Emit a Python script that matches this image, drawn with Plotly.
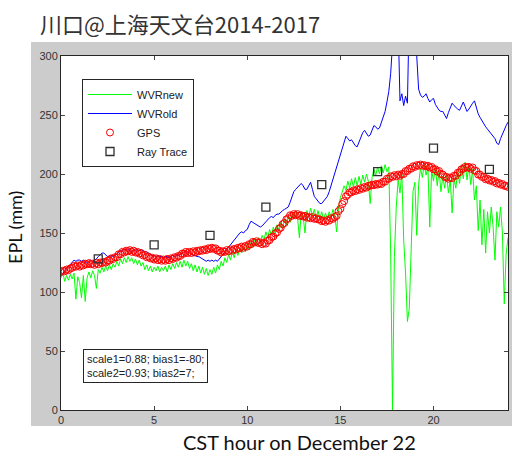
import plotly.graph_objects as go

# ---------------- data ----------------
step_hours = 0.1
n_samples = 241
hours = [round(i * step_hours, 1) for i in range(n_samples)]

wvr_new = [
    112, 116, 109, 114, 110, 115, 111, 116, 94, 113,
    108, 95, 114, 92, 112, 117, 112, 118, 114, 103,
    119, 116, 121, 117, 122, 118, 123, 119, 124, 121,
    126, 122, 128, 124, 129, 125, 130, 126, 129, 124,
    128, 123, 127, 122, 125, 119, 123, 118, 122, 117,
    121, 118, 122, 117, 121, 118, 122, 117, 123, 119,
    124, 120, 125, 121, 126, 121, 127, 122, 126, 120,
    124, 118, 123, 117, 122, 116, 121, 115, 120, 114,
    119, 115, 121, 116, 123, 119, 126, 122, 129, 125,
    132, 127, 134, 129, 136, 131, 137, 133, 139, 134,
    141, 136, 142, 138, 145, 140, 146, 142, 148, 144,
    151, 146, 153, 148, 155, 150, 157, 152, 159, 154,
    162, 157, 164, 159, 167, 162, 169, 163, 146, 168,
    164, 150, 169, 164, 171, 165, 170, 163, 169, 162,
    168, 161, 167, 162, 168, 163, 170, 165, 151, 172,
    180, 185, 190, 186, 194, 188, 196, 189, 197, 190,
    198, 191, 199, 193, 200, 194, 175, 197, 204, 199,
    206, 200, 207, 201, 208, 202, 206, 133, 0, 130,
    172, 195, 184, 201, 144, 116, 75, 86, 146, 185,
    193, 148, 191, 205, 197, 208, 199, 206, 155, 203,
    194, 206, 190, 203, 185, 198, 188, 200, 184, 195,
    167, 196, 188, 203, 192, 208, 196, 210, 195, 207,
    191, 204, 178, 190, 152, 178, 140, 170, 133, 168,
    150, 172, 155, 127, 168, 155, 172, 150, 90, 132,
    146,
]

wvr_old = [
    114, 116, 117, 119, 121, 124, 125, 127, 126, 127,
    127, 126, 127, 126, 125, 126, 127, 126, 127, 128,
    130, 132, 133, 133, 131, 130, 130, 131, 130, 131,
    132, 134, 135, 135, 136, 135, 136, 135, 134, 135,
    135, 136, 135, 136, 135, 134, 134, 133, 132, 131,
    131, 130, 131, 130, 130, 129, 130, 130, 129, 130,
    131, 130, 131, 131, 132, 133, 134, 134, 134, 133,
    132, 131, 131, 130, 130, 129, 128, 127, 126, 127,
    126, 127, 126, 127, 126, 128, 130, 131, 134, 136,
    138, 140, 142, 144, 146, 148, 150, 151, 150, 152,
    153, 157, 160, 159, 158, 157, 156, 155, 156, 158,
    160, 161, 163, 164, 163, 165, 166, 166, 168, 169,
    170, 171, 172, 176, 181, 185, 187, 189, 191, 192,
    190, 187, 187, 190, 193, 187, 181, 179, 177, 175,
    175, 177, 179, 181, 185, 190, 195, 201, 207, 212,
    216, 221, 227, 232, 230, 228, 229, 226, 224, 223,
    227, 231, 235, 237, 234, 232, 233, 237, 241, 240,
    238, 239, 244, 249, 253, 261, 270, 285, 305, 340,
    360, 330, 262, 268, 258, 266, 260, 340, 360, 350,
    330, 300, 272, 267, 265, 266, 268, 264, 261, 263,
    264, 259, 256, 254, 253, 253, 250, 247, 252, 256,
    260, 258, 256, 255, 254, 258, 261, 257, 253, 255,
    258, 260, 262, 256, 251, 248, 245, 242, 240, 238,
    236, 234, 233, 230, 226, 225, 230, 234, 238, 241,
    244,
]

gps = [
    117, 118, 117.5, 119, 118.5, 120, 120.5, 122, 121.5, 122.5,
    121.5, 123, 122.5, 124, 123.5, 124.5, 123.5, 124, 123, 124.5,
    123.5, 125, 124.5, 125.5, 125, 126.5, 126.5, 128.5, 128, 129.5,
    129.5, 132, 132, 134, 133.5, 135, 134.5, 135.5, 134, 135,
    133.5, 134, 132.5, 133, 131, 131.5, 129.5, 130, 128.5, 129,
    127.5, 128.5, 127, 128, 126.5, 127.5, 126.5, 128, 127, 128.5,
    128, 129.5, 129, 130.5, 130.5, 132.5, 132.5, 134, 133, 134,
    133, 134.5, 133.5, 135, 134.5, 135.5, 135, 136, 135.5, 137,
    136.5, 137.5, 136.5, 137, 135, 135, 133.5, 134.5, 134, 135.5,
    134.5, 136, 135, 136.5, 136, 137.5, 137, 138.5, 137.5, 139,
    138.5, 140.5, 140.5, 142.5, 142, 143, 141.5, 142, 140.5, 141.5,
    141, 143.5, 144, 146.5, 147, 149.5, 150.5, 153.5, 154.5, 157.5,
    158.5, 161.5, 162.5, 165, 164.5, 166, 165, 166, 164.5, 165,
    164, 164.5, 163, 163.5, 162.5, 163.5, 162, 162.5, 161.5, 161.5,
    160, 160.5, 159.5, 161, 160.5, 162.5, 162, 163.5, 164.5, 168.5,
    170.5, 174.5, 177, 181, 182.5, 184.5, 184.5, 186, 185.5, 187,
    186.5, 188, 187.5, 189, 188.5, 190, 190, 191, 190.5, 191.5,
    191, 192, 191.5, 193.5, 193.5, 196, 196, 198, 197.5, 199,
    198, 199.5, 198.5, 200, 200, 202.5, 202.5, 204.5, 204.5, 206.5,
    206, 207.5, 207, 208, 207, 207.5, 206.5, 207, 205.5, 206,
    204, 204, 202, 202.5, 200, 199.5, 197.5, 197.5, 196, 197,
    196.5, 198.5, 198.5, 201, 201.5, 204, 204.5, 206, 205.5, 206,
    204.5, 205.5, 203, 202.5, 199.5, 199.5, 197.5, 197.5, 195.5, 196,
    194.5, 195, 193.5, 194, 192, 192.5, 191, 191.5, 190, 190,
    189,
]

ray_hours = [2, 5, 8, 11, 14, 17, 20, 23]
ray_trace = [128, 140, 148, 172, 191, 202, 222, 204]

x_ticks = [0, 5, 10, 15, 20]
y_ticks = [0, 50, 100, 150, 200, 250, 300]

title_text = "川口@上海天文台2014-2017"
x_label = "CST hour on December 22"
y_label = "EPL (mm)"
note_text = "scale1=0.88; bias1=-80;<br>scale2=0.93; bias2=7;"

# ---------------- figure ----------------
W, H = 512, 454
L, R, T, B = 61, 4, 56, 44
pw, ph = W - L - R, H - T - B


def px_x(p):
    return (p - L) / pw


def px_y(p):
    return (H - B - p) / ph


tick_font = dict(family="Liberation Sans, Arial, sans-serif", size=11, color="#333333")

fig = go.Figure()
fig.add_trace(go.Scatter(x=hours, y=wvr_new, mode="lines", name="WVRnew",
                         line=dict(color="#00ff00", width=1)))
fig.add_trace(go.Scatter(x=hours, y=wvr_old, mode="lines", name="WVRold",
                         line=dict(color="#0000ff", width=1)))
fig.add_trace(go.Scatter(x=hours, y=gps, mode="markers", name="GPS",
                         marker=dict(symbol="circle-open", size=7,
                                     color="#ff0000", line=dict(width=1, color="#ff0000"))))
fig.add_trace(go.Scatter(x=ray_hours, y=ray_trace, mode="markers", name="Ray Trace",
                         marker=dict(symbol="square-open", size=8,
                                     color="#303030", line=dict(width=1.3, color="#303030"))))

fig.update_layout(
    width=W, height=H,
    margin=dict(l=L, r=R, t=T, b=B, pad=0),
    paper_bgcolor="white",
    plot_bgcolor="white",
    hovermode=False,
    showlegend=True,
    legend=dict(x=px_x(82), y=px_y(79), xanchor="left", yanchor="top",
                bgcolor="white", bordercolor="#262626", borderwidth=1,
                font=dict(family="Liberation Sans, Arial, sans-serif", size=11, color="#202020"),
                tracegroupgap=0, itemwidth=44),
    shapes=[
        dict(type="rect", xref="paper", yref="paper", layer="below",
             x0=px_x(31), x1=px_x(512), y0=px_y(426), y1=px_y(42),
             fillcolor="#cccccc", line=dict(width=0)),
        dict(type="rect", xref="paper", yref="paper", layer="below",
             x0=0, x1=1, y0=0, y1=1, fillcolor="white", line=dict(width=0)),
    ],
    annotations=[
        dict(text=title_text, xref="paper", yref="paper", x=px_x(38), y=px_y(23),
             xanchor="left", yanchor="middle", showarrow=False,
             font=dict(family="Noto Sans CJK SC", size=22, color="#333333")),
        dict(text=x_label, xref="paper", yref="paper", x=px_x(299), y=px_y(442),
             xanchor="center", yanchor="middle", showarrow=False,
             font=dict(family="Lato, Open Sans, sans-serif", size=20, color="#111111")),
        dict(text=y_label, xref="paper", yref="paper", x=px_x(15), y=px_y(228),
             xanchor="center", yanchor="middle", showarrow=False, textangle=-90,
             font=dict(family="Lato, Open Sans, sans-serif", size=18, color="#111111")),
        dict(text=note_text, xref="paper", yref="paper", x=px_x(83), y=px_y(349),
             xanchor="left", yanchor="top", showarrow=False, align="left",
             bgcolor="white", bordercolor="#262626", borderwidth=1, borderpad=3,
             font=dict(family="Liberation Sans, Arial, sans-serif", size=11, color="#202020")),
    ],
)

fig.update_xaxes(range=[0, 24], tickvals=x_ticks, ticks="inside", ticklen=4,
                 showline=True, linecolor="#262626", linewidth=1, mirror="ticks",
                 showgrid=False, zeroline=False, tickfont=tick_font)
fig.update_yaxes(range=[0, 300], tickvals=y_ticks, ticks="inside", ticklen=4,
                 showline=True, linecolor="#262626", linewidth=1, mirror="ticks",
                 showgrid=False, zeroline=False, tickfont=tick_font)

fig.write_html(
    "out.html",
    config={"displayModeBar": False},
    post_script="document.body.style.margin='0';document.body.style.overflow='hidden';",
)
